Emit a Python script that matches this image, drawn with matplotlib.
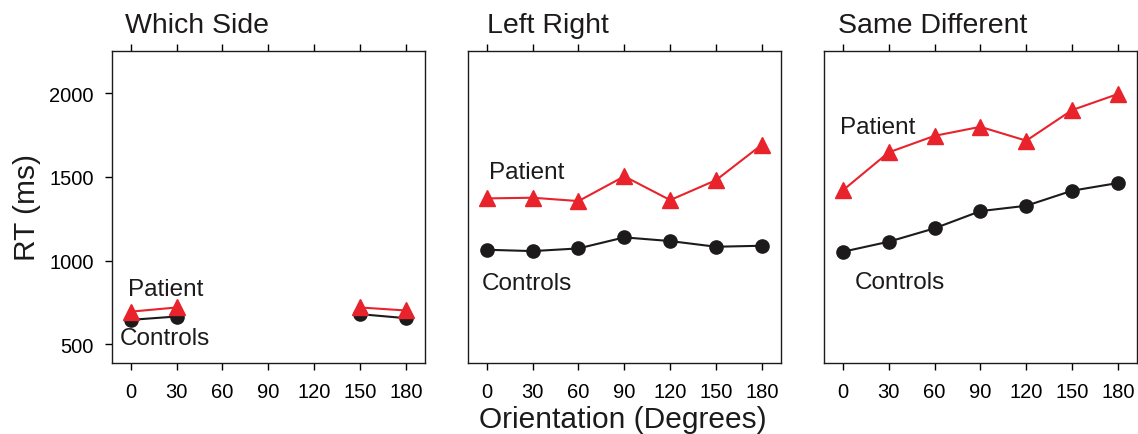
import numpy as np
import matplotlib.pyplot as plt

plt.rcParams['font.family'] = ['Liberation Sans', 'DejaVu Sans']

# data
angles = [0, 30, 60, 90, 120, 150, 180]
titles = ['Which Side', 'Left Right', 'Same Different']

ws_angles = [0, 30, 150, 180]
ws_patient = [695, 720, 720, 702]
ws_controls = [646, 666, 680, 656]

lr_patient = [1372, 1376, 1356, 1504, 1362, 1481, 1693]
lr_controls = [1065, 1057, 1073, 1139, 1117, 1083, 1089]

sd_patient = [1420, 1647, 1746, 1800, 1717, 1900, 1996]
sd_controls = [1053, 1113, 1193, 1296, 1328, 1418, 1464]

yticks = [500, 1000, 1500, 2000]

red = '#e8232b'
black = '#1c1a1b'

fig = plt.figure(figsize=(11.38, 4.35), dpi=100)
lefts = [0.0984, 0.4112, 0.7241]
axes = [fig.add_axes([l, 0.1632, 0.2748, 0.7172]) for l in lefts]

panels = [
    (ws_angles, ws_patient, ws_controls),
    (angles, lr_patient, lr_controls),
    (angles, sd_patient, sd_controls),
]
# label anchor positions (data coords)
patient_lab = [(-1.8, 830), (1.8, 1529), (-1.8, 1798)]
controls_lab = [(-7, 537), (-3.5, 866), (8, 872)]
title_x = [0.042, 0.06, 0.045]

for i, ax in enumerate(axes):
    xs, pat, con = panels[i]
    if i == 0:
        # gap between 30 and 150 in Which Side
        ax.plot(xs[:2], con[:2], color=black, lw=1.5, marker='o', ms=9.5)
        ax.plot(xs[2:], con[2:], color=black, lw=1.5, marker='o', ms=9.5)
        ax.plot(xs[:2], pat[:2], color=red, lw=1.5, marker='^', ms=11)
        ax.plot(xs[2:], pat[2:], color=red, lw=1.5, marker='^', ms=11)
    else:
        ax.plot(xs, con, color=black, lw=1.5, marker='o', ms=9.5)
        ax.plot(xs, pat, color=red, lw=1.5, marker='^', ms=11)

    ax.text(*patient_lab[i], 'Patient', fontsize=17.5, va='center', ha='left', color=black)
    ax.text(*controls_lab[i], 'Controls', fontsize=17.5, va='center', ha='left', color=black)

    ax.set_xlim(-12.3, 192.3)
    ax.set_ylim(388, 2253)
    ax.set_xticks(angles)
    ax.set_xticklabels([str(a) for a in angles])
    ax.tick_params(axis='x', which='both', direction='out', length=5, width=1,
                   top=True, labeltop=False, labelsize=14.5, pad=9)
    if i == 0:
        ax.set_yticks(yticks)
        ax.tick_params(axis='y', direction='out', length=5, width=1, labelsize=14.5, pad=8)
    else:
        ax.set_yticks([])
    for s in ax.spines.values():
        s.set_linewidth(1)
        s.set_color(black)
    ax.text(title_x[i], 1.06, titles[i], transform=ax.transAxes, fontsize=20.5,
            ha='left', va='baseline', color=black)

fig.text(0.0237, 0.522, 'RT (ms)', rotation=90, fontsize=21.5, ha='center', va='center', color=black)
fig.text(0.5475, 0.035, 'Orientation (Degrees)', fontsize=21.5, ha='center', va='center', color=black)

fig.savefig('out.png', dpi=100)
